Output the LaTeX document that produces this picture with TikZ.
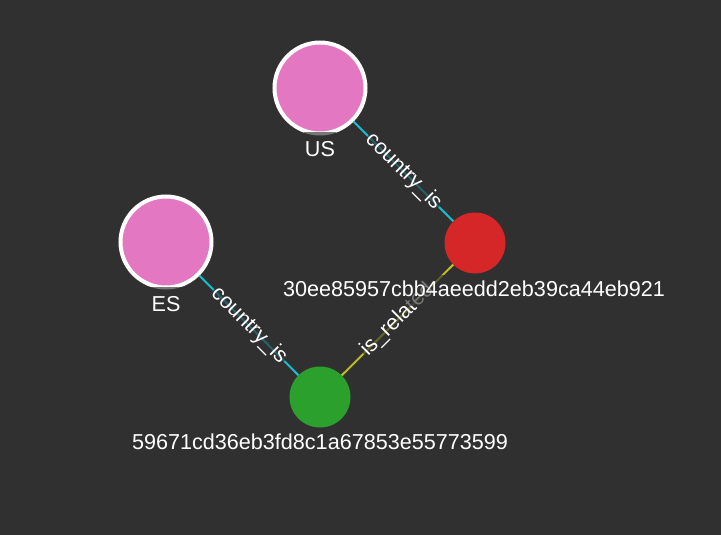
\documentclass[tikz,border=0pt]{standalone}
\usepackage{fontspec}
\setmainfont{Liberation Sans}
\definecolor{bg}{HTML}{303030}
\definecolor{cpink}{HTML}{E377C2}
\definecolor{cred}{HTML}{D62728}
\definecolor{cgreen}{HTML}{2CA02C}
\definecolor{ccyan}{HTML}{17BECF}
\definecolor{colive}{HTML}{BCBD22}
\tikzset{
  countrynode/.style={circle, fill=cpink, draw=white, line width=4pt, minimum size=91pt, inner sep=0pt},
  hashnode/.style={circle, minimum size=61pt, inner sep=0pt},
  lbltext/.style={font=\fontsize{21.6}{24}\selectfont, text=white, fill=bg, fill opacity=0.65, text opacity=1},
  nlabel/.style={lbltext, anchor=base, text height=19.5pt, text depth=5pt, inner xsep=1pt, inner ysep=5pt},
  hlabel/.style={nlabel, text height=16.5pt},
  elabel/.style={lbltext, sloped, anchor=center, text height=15pt, text depth=4pt, inner sep=1pt},
  cyanedge/.style={draw=ccyan, line width=2pt},
  oliveedge/.style={draw=colive, line width=2pt}
}
\begin{document}
\begin{tikzpicture}[x=1pt, y=-1pt]
  \fill[bg] (0,0) rectangle (721,535);
  \useasboundingbox (0,0) rectangle (721,535);

  % nodes
  \node[countrynode] (us) at (320,88) {};
  \node[countrynode] (es) at (166,242) {};
  \node[hashnode, fill=cred] (h1) at (475,243) {};
  \node[hashnode, fill=cgreen] (h2) at (320,397) {};

  % edges
  \draw[cyanedge] (us) -- node[elabel] {country\_is} (h1);
  \draw[cyanedge] (es) -- node[elabel] {country\_is} (h2);
  \draw[oliveedge] (h2) -- node[elabel] {is\_related} (h1);

  % node labels
  \node[nlabel] (uslbl) at (320,156) {US};
  \node[nlabel] (eslbl) at (166,311) {ES};
  \node[hlabel] (h1lbl) at (474,296) {30ee85957cbb4aeedd2eb39ca44eb921};
  \node[hlabel] (h2lbl) at (320,449) {59671cd36eb3fd8c1a67853e55773599};
\end{tikzpicture}
\end{document}
